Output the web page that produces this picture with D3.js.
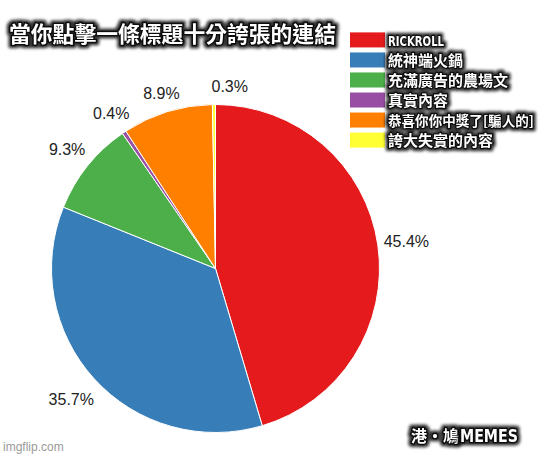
<!DOCTYPE html>
<html>
<head>
<meta charset="utf-8">
<script src="https://cdn.jsdelivr.net/npm/d3@7"></script>
<style>
  html, body { margin: 0; padding: 0; background: #fff; }
  svg { display: block; }
  .meme { fill: #fff; stroke: #111; stroke-linejoin: round; paint-order: stroke; }
</style>
</head>
<body>
<div id="chart"></div>
<script>
// ---- data ----
const title = "當你點擊一條標題十分誇張的連結";
const categories = ["RICKROLL", "統神端火鍋", "充滿廣告的農場文", "真實內容", "恭喜你你中獎了[騙人的]", "誇大失實的內容"];
const values = [45.4, 35.7, 9.3, 0.4, 8.9, 0.3];
const colors = ["#e41a1c", "#377eb8", "#4daf4a", "#984ea3", "#ff7f00", "#ffff33"];
const watermark = "imgflip.com";
const signatureCJK = "港・鳩";
const signatureLatin = "MEMES";

// ---- layout ----
const W = 547, H = 456;
const cx = 215.5, cy = 268.5, r = 164;

const svg = d3.select("#chart").append("svg")
  .attr("width", W).attr("height", H)
  .attr("viewBox", `0 0 ${W} ${H}`);

svg.append("rect").attr("width", W).attr("height", H).attr("fill", "#fff");

const defs = svg.append("defs");
const f = defs.append("filter").attr("id", "halo")
  .attr("x", "-10%").attr("y", "-50%").attr("width", "120%").attr("height", "200%");
f.append("feMorphology").attr("in", "SourceAlpha").attr("operator", "dilate").attr("radius", 1.5).attr("result", "d");
f.append("feGaussianBlur").attr("in", "d").attr("stdDeviation", 1.8).attr("result", "b");
f.append("feFlood").attr("flood-color", "#000").attr("flood-opacity", 0.8).attr("result", "c");
f.append("feComposite").attr("in", "c").attr("in2", "b").attr("operator", "in").attr("result", "s");
const m = f.append("feMerge");
m.append("feMergeNode").attr("in", "s");
m.append("feMergeNode").attr("in", "SourceGraphic");

const cjkFont = "'Noto Sans CJK TC', 'Noto Sans CJK SC', sans-serif";
const narrowFont = "'Liberation Sans Narrow', 'DejaVu Sans Condensed', 'Liberation Sans', sans-serif";

// ---- pie ----
const pie = d3.pie().sort(null).value(d => d);
const arcs = pie(values);
const arc = d3.arc().innerRadius(0).outerRadius(r);

const g = svg.append("g").attr("transform", `translate(${cx},${cy})`);
g.selectAll("path.slice").data(arcs).join("path")
  .attr("class", "slice")
  .attr("d", arc)
  .attr("fill", (d, i) => colors[i])
  .attr("stroke", "#fff")
  .attr("stroke-width", 1);

// labels
const fmt = v => d3.format(".1f")(v) + "%";
g.selectAll("text.lbl").data(arcs).join("text")
  .attr("class", "lbl")
  .each(function(d) {
    const a = (d.startAngle + d.endAngle) / 2;
    const R = 180 + 13 * Math.abs(Math.sin(a)) + 8 * Math.max(0, -Math.cos(a));
    let x = R * Math.sin(a), y = -R * Math.cos(a);
    let anchor = "middle";
    const nearTop = Math.min(a, 2 * Math.PI - a) < 10 * Math.PI / 180;
    if (nearTop) { anchor = "start"; x = -4; y = -182; }
    d3.select(this).attr("x", x).attr("y", y).attr("dy", "0.36em").attr("text-anchor", anchor);
  })
  .attr("font-family", "'Liberation Sans', Arial, sans-serif")
  .attr("font-size", 16)
  .attr("fill", "#222")
  .text(d => fmt(d.data));

// ---- title ----
svg.append("text")
  .attr("class", "meme")
  .attr("x", 9).attr("y", 42)
  .attr("font-family", cjkFont)
  .attr("font-weight", "bold")
  .attr("font-size", 21.8)
  .attr("stroke-width", 3.2)
  .attr("filter", "url(#halo)")
  .text(title);

// ---- legend ----
const ly = d3.scaleBand().domain(categories).range([30, 150]).paddingInner(0.25).paddingOuter(0.12);
const isLatin = d => /^[A-Z]+$/.test(d);
const leg = svg.append("g");
leg.selectAll("rect").data(categories).join("rect")
  .attr("x", 350).attr("y", d => ly(d))
  .attr("width", 35).attr("height", ly.bandwidth())
  .attr("fill", (d, i) => colors[i]);
leg.selectAll("text").data(categories).join("text")
  .attr("class", "meme")
  .attr("x", 388)
  .attr("y", d => ly(d) + ly.bandwidth() - 1.5)
  .attr("font-family", d => isLatin(d) ? narrowFont : cjkFont)
  .attr("font-weight", "bold")
  .attr("font-size", d => isLatin(d) ? 14 : 15)
  .attr("stroke-width", 2.6)
  .attr("filter", "url(#halo)")
  .text(d => d)
  .each(function(d) {
    const maxW = 146;
    const len = this.getComputedTextLength();
    if (isLatin(d)) {
      d3.select(this).attr("textLength", 56).attr("lengthAdjust", "spacingAndGlyphs");
    } else if (len > maxW) {
      d3.select(this).attr("font-size", 15 * maxW / len);
    }
  });

// ---- watermark & signature ----
svg.append("text")
  .attr("x", 3).attr("y", 451)
  .attr("font-family", "'Liberation Sans', Arial, sans-serif")
  .attr("font-size", 12)
  .attr("fill", "#9a9a9a")
  .text(watermark);

svg.append("text")
  .attr("class", "meme")
  .attr("x", 411).attr("y", 441.5)
  .attr("font-family", cjkFont)
  .attr("font-weight", "bold")
  .attr("font-size", 16)
  .attr("stroke-width", 3)
  .attr("filter", "url(#halo)")
  .text(signatureCJK);

svg.append("text")
  .attr("class", "meme")
  .attr("x", 460).attr("y", 441.5)
  .attr("font-family", narrowFont)
  .attr("font-weight", "bold")
  .attr("font-size", 17)
  .attr("textLength", 58).attr("lengthAdjust", "spacingAndGlyphs")
  .attr("stroke-width", 3)
  .attr("filter", "url(#halo)")
  .text(signatureLatin);
</script>
</body>
</html>
